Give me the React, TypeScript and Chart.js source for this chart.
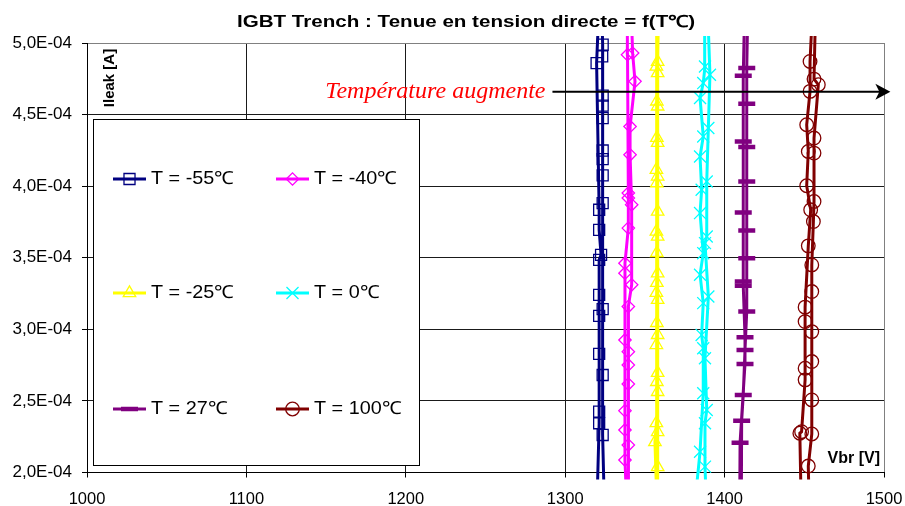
import React, { useEffect, useRef } from 'react';
import { Chart, registerables } from 'chart.js';
import { drawPoint } from 'chart.js/helpers';

Chart.register(...registerables);

// ---- axes ----
const X_MIN = 1000;
const X_MAX = 1500;
const X_STEP = 100;
const Y_MIN = 2.0e-4;
const Y_MAX = 5.0e-4;
const Y_STEP = 0.5e-4;

const TITLE = 'IGBT Trench : Tenue en tension directe = f(T℃)';
const Y_TITLE = 'Ileak [A]';
const X_TITLE = 'Vbr [V]';
const NOTE = 'Température augmente';
// arrow annotation (data coordinates)
const ARROW_FROM = 1292;
const ARROW_TO = 1504;
const ARROW_Y = 4.66e-4;

const labels = ['T = -55℃', 'T = -40℃', 'T = -25℃', 'T = 0℃', 'T = 27℃', 'T = 100℃'];

// ---- data : Vbr [V] / Ileak [A], two sweeps per temperature ----
const vbrM55 = [1323.0, 1323.5, 1323.2, 1323.5, 1323.5, 1323.5, 1323.5, 1323.5, 1323.5, 1323.5, 1323.5, 1323.5, 1323.5, 1324.5,
  1320.0, 1321.3, 1321.3, 1321.3, 1321.3, 1321.3, 1321.3, 1322.5, 1321.3, 1321.3, 1319.7, 1321.0];
const ileakM55 = [5.2e-4, 4.988e-4, 4.906e-4, 4.632e-4, 4.562e-4, 4.476e-4, 4.249e-4, 4.189e-4, 4.075e-4, 3.882e-4, 3.141e-4, 2.681e-4, 2.262e-4, 1.8e-4,
  1.8e-4, 2.344e-4, 2.425e-4, 2.828e-4, 3.094e-4, 3.241e-4, 3.485e-4, 3.520e-4, 3.695e-4, 3.835e-4, 4.860e-4, 5.2e-4];

const vbrM40 = [1341.5, 1342.3, 1343.8, 1340.7, 1340.7, 1341.7, 1341.7, 1339.6, 1339.6, 1339.6, 1339.6, 1339.6, 1340.0,
  1338.5, 1337.5, 1337.5, 1337.5, 1337.5, 1337.5, 1337.5, 1339.6, 1339.6, 1339.6, 1339.1, 1339.0];
const ileakM40 = [5.2e-4, 4.930e-4, 4.732e-4, 4.417e-4, 4.219e-4, 3.870e-4, 3.311e-4, 3.159e-4, 2.844e-4, 2.751e-4, 2.618e-4, 2.192e-4, 1.8e-4,
  1.8e-4, 2.087e-4, 2.297e-4, 2.432e-4, 2.926e-4, 3.392e-4, 3.462e-4, 3.707e-4, 3.917e-4, 3.952e-4, 4.918e-4, 5.2e-4];

const vbrM25 = [1358.5, 1358.0, 1358.0, 1358.0, 1358.0, 1358.0, 1358.0, 1358.0, 1358.0, 1358.0, 1358.0, 1358.0, 1358.0, 1358.0, 1358.0, 1358.2,
  1357.5, 1356.3, 1357.2, 1357.5, 1357.2, 1357.5, 1357.2, 1357.5, 1357.5, 1357.2, 1357.5, 1357.2, 1357.5, 1357.5, 1357.2, 1357.5];
const ileakM25 = [5.2e-4, 4.869e-4, 4.790e-4, 4.557e-4, 4.303e-4, 4.068e-4, 3.823e-4, 3.648e-4, 3.392e-4, 3.206e-4, 2.961e-4, 2.696e-4, 2.563e-4, 2.283e-4, 2.038e-4, 1.8e-4,
  1.8e-4, 2.213e-4, 2.346e-4, 2.633e-4, 2.891e-4, 3.045e-4, 3.255e-4, 3.325e-4, 3.534e-4, 3.683e-4, 4.021e-4, 4.115e-4, 4.338e-4, 4.592e-4, 4.836e-4, 5.2e-4];

const vbrP0 = [1389.5, 1390.8, 1389.8, 1388.8, 1388.8, 1387.7, 1389.8, 1387.7, 1388.8, 1387.7, 1387.7, 1388.5,
  1381.5, 1384.6, 1386.6, 1386.6, 1385.6, 1386.6, 1384.6, 1386.6, 1384.6, 1385.6, 1384.6, 1386.6, 1384.6, 1386.6, 1387.7, 1387.5];
const ileakP0 = [5.2e-4, 4.778e-4, 4.406e-4, 4.033e-4, 3.648e-4, 3.602e-4, 3.229e-4, 2.798e-4, 2.437e-4, 2.344e-4, 2.041e-4, 1.8e-4,
  1.8e-4, 2.145e-4, 2.554e-4, 2.868e-4, 2.961e-4, 3.183e-4, 3.381e-4, 3.532e-4, 3.812e-4, 3.975e-4, 4.207e-4, 4.347e-4, 4.616e-4, 4.720e-4, 4.836e-4, 5.2e-4];

const vbrP27 = [1414.5, 1413.9, 1413.9, 1413.9, 1413.9, 1413.9, 1413.9, 1413.9, 1412.8, 1411.7, 1410.7, 1410.5,
  1409.5, 1409.7, 1412.8, 1412.8, 1411.7, 1411.7, 1411.7, 1411.7, 1411.7, 1412.5];
const ileakP27 = [5.2e-4, 4.825e-4, 4.576e-4, 4.273e-4, 4.033e-4, 3.690e-4, 3.497e-4, 3.124e-4, 2.856e-4, 2.542e-4, 2.362e-4, 1.8e-4,
  1.8e-4, 2.208e-4, 2.758e-4, 2.945e-4, 3.304e-4, 3.334e-4, 3.816e-4, 4.312e-4, 4.771e-4, 5.2e-4];

const vbrP100 = [1457.0, 1456.1, 1458.8, 1456.1, 1456.1, 1456.1, 1455.7, 1454.7, 1454.7, 1454.7, 1454.7, 1454.7, 1454.7, 1452.5, 1453.0,
  1448.0, 1447.2, 1448.3, 1450.5, 1450.5, 1450.5, 1450.5, 1452.5, 1454.0, 1451.5, 1452.5, 1451.5, 1453.6, 1453.6, 1455.0];
const ileakP100 = [5.2e-4, 4.748e-4, 4.709e-4, 4.336e-4, 4.231e-4, 3.893e-4, 3.753e-4, 3.450e-4, 3.264e-4, 2.984e-4, 2.775e-4, 2.507e-4, 2.269e-4, 2.045e-4, 1.8e-4,
  1.8e-4, 2.274e-4, 2.285e-4, 2.647e-4, 2.728e-4, 3.054e-4, 3.155e-4, 3.583e-4, 3.835e-4, 4.003e-4, 4.242e-4, 4.429e-4, 4.662e-4, 4.871e-4, 5.2e-4];

const SANS = '"Liberation Sans", Arial, sans-serif';
const SERIF = '"Liberation Serif", "Times New Roman", serif';

const seriesDefs = [
  { vbr: vbrM55, ileak: ileakM55, color: '#000080', style: 'rect', r: 7.8, bw: 1.3 },
  { vbr: vbrM40, ileak: ileakM40, color: '#FF00FF', style: 'rectRot', r: 6.2, bw: 1.3 },
  { vbr: vbrM25, ileak: ileakM25, color: '#FFFF00', style: 'triangle', r: 7.2, bw: 1.3 },
  { vbr: vbrP0, ileak: ileakP0, color: '#00FFFF', style: 'crossRot', r: 8.5, bw: 1.3 },
  { vbr: vbrP27, ileak: ileakP27, color: '#800080', style: 'line', r: 8.5, bw: 4.5 },
  { vbr: vbrP100, ileak: ileakP100, color: '#800000', style: 'circle', r: 6.8, bw: 1.3 },
];

function fmtSci(v: number): string {
  const [m, e] = v.toExponential(1).split('e');
  const ex = parseInt(e, 10);
  return m.replace('.', ',') + 'E' + (ex < 0 ? '-' : '+') + String(Math.abs(ex)).padStart(2, '0');
}

// draw text stretched horizontally to a given width
function fillTextWidth(ctx: CanvasRenderingContext2D, text: string, x: number, y: number, width: number, align: 'left' | 'center' | 'right') {
  const w = ctx.measureText(text).width;
  const sx = width / w;
  ctx.save();
  let left = x;
  if (align === 'center') left = x - width / 2;
  if (align === 'right') left = x - width;
  ctx.translate(left, y);
  ctx.scale(sx, 1);
  ctx.textAlign = 'left';
  ctx.fillText(text, 0, 0);
  ctx.restore();
}

const legendPlugin = {
  id: 'boxLegend',
  beforeDatasetsDraw(chart: any) {
    const { ctx, chartArea } = chart;
    const left = chartArea.left + 6;
    const top = chartArea.top + 76;
    const right = 420;
    const bottom = 466;
    ctx.save();
    ctx.fillStyle = '#ffffff';
    ctx.fillRect(left, top, right - left, bottom - top);
    ctx.strokeStyle = '#000000';
    ctx.lineWidth = 1;
    ctx.strokeRect(left + 0.5, top + 0.5, right - left - 1, bottom - top - 1);
    const rowY = [179, 293, 409];
    const colX = [113, 276];
    chart.data.datasets.forEach((ds: any, i: number) => {
      const x0 = colX[i % 2];
      const y = rowY[Math.floor(i / 2)];
      ctx.strokeStyle = ds.borderColor;
      ctx.lineWidth = ds.borderWidth;
      ctx.beginPath();
      ctx.moveTo(x0, y);
      ctx.lineTo(x0 + 33, y);
      ctx.stroke();
      const def = seriesDefs[i];
      ctx.fillStyle = 'rgba(0,0,0,0)';
      ctx.strokeStyle = def.color;
      ctx.lineWidth = def.bw;
      drawPoint(ctx, { pointStyle: def.style as any, radius: def.r, rotation: 0, borderWidth: def.bw }, x0 + 16.5, y);
      ctx.fillStyle = '#000';
      ctx.font = '18px ' + SANS;
      ctx.textBaseline = 'middle';
      const w = ctx.measureText(ds.label).width * 1.1;
      fillTextWidth(ctx, ds.label, x0 + 38, y, w, 'left');
    });
    ctx.restore();
  },
};

const textPlugin = {
  id: 'texts',
  afterDraw(chart: any) {
    const { ctx, chartArea, scales } = chart;
    const xs = scales.x;
    const ys = scales.y;
    ctx.save();
    // title
    ctx.fillStyle = '#000';
    ctx.font = 'bold 16.5px ' + SANS;
    ctx.textBaseline = 'alphabetic';
    fillTextWidth(ctx, TITLE, 466, 27, 458, 'center');
    // y axis title (rotated, inside plot)
    ctx.save();
    ctx.translate(chartArea.left + 23, chartArea.top + 35);
    ctx.rotate(-Math.PI / 2);
    ctx.font = 'bold 15px ' + SANS;
    ctx.textAlign = 'center';
    ctx.textBaseline = 'middle';
    ctx.fillText(Y_TITLE, 0, 0);
    ctx.restore();
    // x axis title (inside plot, bottom right)
    ctx.font = 'bold 16px ' + SANS;
    ctx.textAlign = 'right';
    ctx.textBaseline = 'middle';
    ctx.fillText(X_TITLE, chartArea.right - 4, chartArea.bottom - 14);
    // arrow
    const ay = ys.getPixelForValue(ARROW_Y);
    const ax0 = xs.getPixelForValue(ARROW_FROM);
    const ax1 = xs.getPixelForValue(ARROW_TO);
    ctx.strokeStyle = '#000';
    ctx.lineWidth = 2;
    ctx.beginPath();
    ctx.moveTo(ax0, ay);
    ctx.lineTo(ax1 - 10, ay);
    ctx.stroke();
    ctx.fillStyle = '#000';
    ctx.beginPath();
    ctx.moveTo(ax1, ay);
    ctx.lineTo(ax1 - 15, ay - 8);
    ctx.lineTo(ax1 - 11, ay);
    ctx.lineTo(ax1 - 15, ay + 8);
    ctx.closePath();
    ctx.fill();
    // note
    ctx.fillStyle = '#FF0000';
    ctx.font = 'italic 24px ' + SERIF;
    ctx.textAlign = 'right';
    ctx.textBaseline = 'alphabetic';
    ctx.fillText(NOTE, ax0 - 7, ay + 6);
    ctx.restore();
  },
};

export default function App() {
  const ref = useRef<HTMLCanvasElement | null>(null);
  useEffect(() => {
    const canvas = ref.current;
    if (!canvas) return;
    const datasets = seriesDefs.map((s, i) => ({
      label: labels[i],
      data: s.vbr.map((v, k) => ({ x: v, y: s.ileak[k] })),
      showLine: true,
      borderColor: s.color,
      borderWidth: 3,
      backgroundColor: s.color,
      pointStyle: s.style as any,
      pointRadius: (c: any) => {
        const raw = c.raw;
        if (!raw) return s.r;
        return raw.y > Y_MAX + 1e-9 || raw.y < Y_MIN - 1e-9 ? 0 : s.r;
      },
      pointBorderWidth: s.bw,
      pointBorderColor: s.color,
      pointBackgroundColor: 'rgba(0,0,0,0)',
      pointHoverRadius: s.r,
      clip: { left: 0, right: 0, top: 7, bottom: 7 },
      tension: 0,
    }));
    const gridColor = (c: any, edge: number) => {
      const v = c.tick ? c.tick.value : null;
      if (v !== null && Math.abs(v - edge) < Math.abs(edge) * 1e-6) return '#808080';
      return '#1a1a1a';
    };
    const chart = new Chart(canvas, {
      type: 'scatter',
      data: { datasets },
      plugins: [legendPlugin, textPlugin],
      options: {
        animation: false,
        responsive: false,
        devicePixelRatio: 1,
        layout: { padding: { top: 43, right: 21, left: 0, bottom: 0 } },
        plugins: {
          legend: { display: false },
          title: { display: false },
          tooltip: { enabled: false },
        },
        events: [],
        scales: {
          x: {
            type: 'linear',
            min: X_MIN,
            max: X_MAX,
            ticks: {
              stepSize: X_STEP,
              color: '#000',
              font: { family: SANS, size: 16.5 },
              padding: 12,
              maxRotation: 0,
              callback: (v: any) => String(v),
            },
            grid: {
              color: (c: any) => gridColor(c, X_MAX),
              lineWidth: 1,
              tickLength: 5,
              tickColor: '#000',
            },
            border: { color: '#000', width: 1 },
            afterFit: (s: any) => { s.height = 33.5; s.paddingLeft = 0; s.paddingRight = 0; },
          },
          y: {
            type: 'linear',
            min: Y_MIN,
            max: Y_MAX,
            ticks: {
              stepSize: Y_STEP,
              color: '#000',
              font: { family: SANS, size: 17 },
              padding: 10,
              callback: (v: any) => fmtSci(Number(v)),
            },
            grid: {
              color: (c: any) => gridColor(c, Y_MAX),
              lineWidth: 1,
              tickLength: 5,
              tickColor: '#000',
            },
            border: { color: '#000', width: 1 },
            afterFit: (s: any) => { s.width = 87; s.paddingTop = 0; s.paddingBottom = 0; },
          },
        },
      } as any,
    });
    return () => chart.destroy();
  }, []);
  return (
    <div style={{ position: 'absolute', left: 0, top: 0, width: 905, height: 506, background: '#fff' }}>
      <canvas ref={ref} width={905} height={506} style={{ display: 'block', width: 905, height: 506 }} />
    </div>
  );
}
